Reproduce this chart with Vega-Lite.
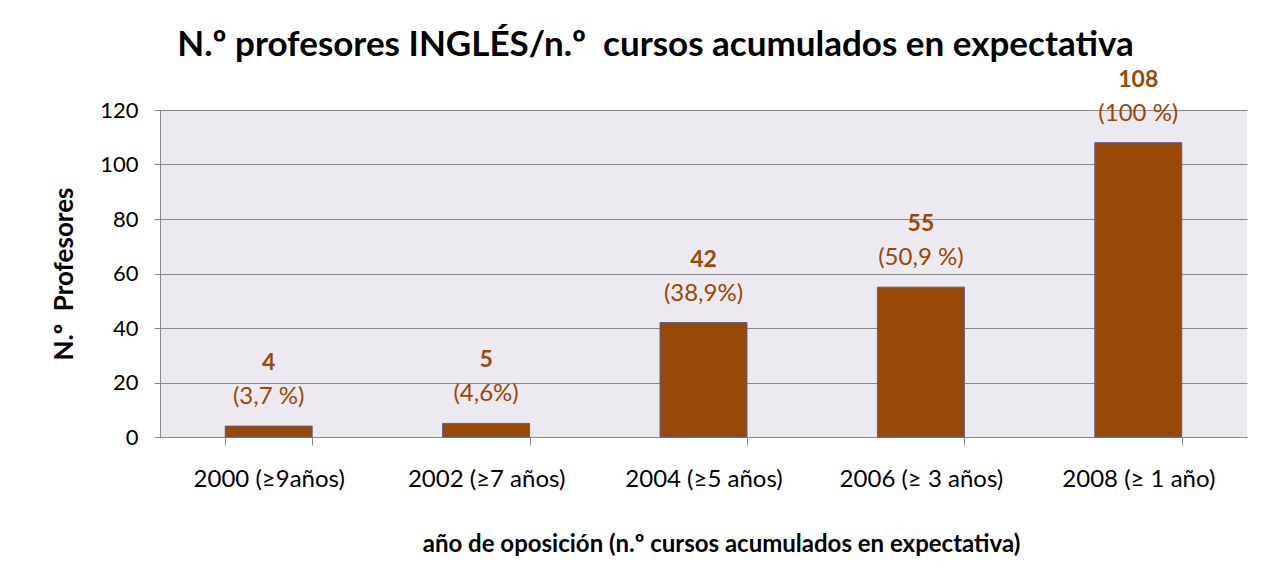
{
  "$schema": "https://vega.github.io/schema/vega-lite/v6.json",
  "width": 1087,
  "height": 327,
  "autosize": {"type": "none"},
  "padding": {"left": 160, "top": 110, "right": 17, "bottom": 140},
  "background": "white",
  "title": {
    "text": "N.º profesores INGLÉS/n.º\u00a0 cursos acumulados en expectativa",
    "font": "Lato",
    "fontSize": 35,
    "fontWeight": "bold",
    "color": "black",
    "anchor": "middle",
    "dx": -48,
    "offset": 6
  },
  "data": {
    "values": [
      {"cat": "2000 (≥9años)", "n": 4, "pct": "(3,7 %)"},
      {"cat": "2002 (≥7 años)", "n": 5, "pct": "(4,6%)"},
      {"cat": "2004 (≥5 años)", "n": 42, "pct": "(38,9%)"},
      {"cat": "2006 (≥ 3 años)", "n": 55, "pct": "(50,9 %)"},
      {"cat": "2008 (≥ 1 año)", "n": 108, "pct": "(100 %)"}
    ]
  },
  "encoding": {
    "x": {
      "field": "cat",
      "type": "nominal",
      "sort": null,
      "scale": {"paddingInner": 0.6, "paddingOuter": 0.3},
      "axis": {
        "title": "año de oposición (n.º cursos acumulados en expectativa)",
        "titleFont": "Lato",
        "titleFontSize": 24,
        "titleFontWeight": "bold",
        "titleColor": "black",
        "titlePadding": 41,
        "titleX": 561,
        "labelFont": "Lato",
        "labelFontSize": 24,
        "labelColor": "black",
        "labelAngle": 0,
        "labelPadding": 22,
        "tickBand": "extent",
        "tickSize": 8,
        "tickColor": "#888888",
        "domainColor": "#888888",
        "grid": false
      }
    },
    "y": {
      "field": "n",
      "type": "quantitative",
      "scale": {"domain": [0, 120]},
      "axis": {
        "values": [0, 20, 40, 60, 80, 100, 120],
        "title": "N.º\u00a0 Profesores",
        "titleFont": "Lato",
        "titleFontSize": 26,
        "titleFontWeight": "bold",
        "titleColor": "black",
        "titlePadding": 22,
        "labelFont": "Lato",
        "labelFontSize": 22,
        "labelColor": "black",
        "labelPadding": 16,
        "tickSize": 6,
        "tickColor": "#888888",
        "domainColor": "#888888",
        "gridColor": "#888888",
        "gridWidth": 1
      }
    }
  },
  "layer": [
    {
      "mark": {"type": "bar", "color": "#984807", "stroke": "#5B5F8C", "strokeWidth": 1}
    },
    {
      "mark": {"type": "text", "font": "Lato", "fontSize": 23, "fontWeight": "bold", "color": "#984807", "dy": -63, "baseline": "middle"},
      "encoding": {"text": {"field": "n"}}
    },
    {
      "mark": {"type": "text", "font": "Lato", "fontSize": 24, "color": "#984807", "dy": -29, "baseline": "middle"},
      "encoding": {"text": {"field": "pct"}}
    }
  ],
  "config": {
    "view": {"fill": "#ECEAF0", "stroke": null}
  }
}
